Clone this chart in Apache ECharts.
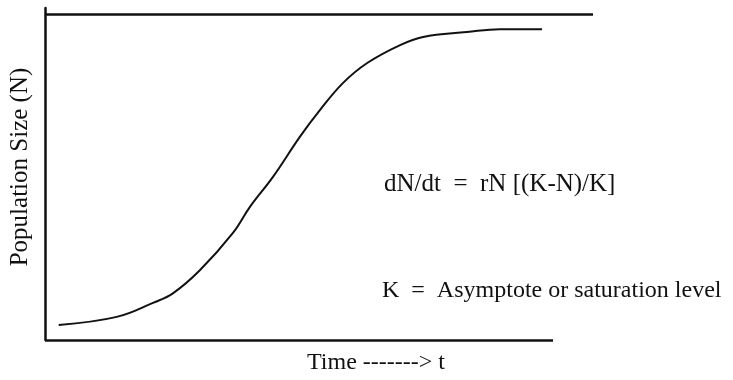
<!DOCTYPE html>
<html>
<head>
<meta charset="utf-8">
<script src="https://cdn.jsdelivr.net/npm/echarts@6/dist/echarts.min.js"></script>
<style>
  html, body { margin: 0; padding: 0; background: #fff; }
  #chart { width: 733px; height: 380px; }
</style>
</head>
<body>
<div id="chart"></div>
<script>
// logistic curve (time, N) in arbitrary units, K = 100
const times = [2.5, 13.1, 19.7, 23.4, 28.3, 34.3, 37.4, 41.6, 46.5, 50.2, 54.4, 58.8, 64.8, 69.0, 77.0, 83.0, 90.7];
const sizes = [4.6, 7.1, 11.4, 14.4, 21.5, 32.9, 40.9, 50.1, 62.4, 70.7, 79.0, 85.1, 90.6, 93.1, 94.6, 95.5, 95.5];
const K = 100;
const timeEnd = 92.7;   // where the time axis line stops
const xLabel = 'Time -------> t';
const yLabel = 'Population Size (N)';
const formulaText = 'dN/dt  =  rN [(K-N)/K]';
const kText = 'K  =  Asymptote or saturation level';

const chart = echarts.init(document.getElementById('chart'));

const serif = 'Liberation Serif';
const points = times.map((t, i) => [t, sizes[i]]);

const option = {
  animation: false,
  grid: { left: 45, right: 140, top: 8, bottom: 40 },
  xAxis: {
    type: 'value',
    min: 0,
    max: 100,
    axisLine: { show: false },
    axisTick: { show: false },
    axisLabel: { show: false },
    splitLine: { show: false }
  },
  yAxis: {
    type: 'value',
    min: 0,
    max: 102,
    name: yLabel,
    nameLocation: 'middle',
    nameRotate: 90,
    nameGap: 12,
    nameTextStyle: { fontFamily: serif, fontSize: 25, color: '#111', padding: [0, 0, 0, 14] },
    axisLine: { show: true, lineStyle: { color: '#111', width: 2.5 } },
    axisTick: { show: false },
    axisLabel: { show: false },
    splitLine: { show: false }
  },
  series: [
    {
      type: 'line',
      data: points,
      smooth: 0.4,
      symbol: 'none',
      lineStyle: { color: '#111', width: 2 },
      markLine: {
        silent: true,
        symbol: 'none',
        label: { show: false },
        lineStyle: { color: '#111', width: 2.5, type: 'solid' },
        data: [
          [{ coord: [0, K] }, { coord: [100, K] }],
          [{ coord: [0, 0] }, { coord: [timeEnd, 0] }]
        ]
      }
    }
  ],
  graphic: [
    {
      type: 'text',
      left: 384,
      top: 172,
      style: { text: formulaText, font: '25px "Liberation Serif"', fill: '#111' }
    },
    {
      type: 'text',
      left: 382,
      top: 279,
      style: { text: kText, font: '24px "Liberation Serif"', fill: '#111' }
    },
    {
      type: 'text',
      left: 307,
      top: 351,
      style: { text: xLabel, font: '24px "Liberation Serif"', fill: '#111' }
    }
  ]
};

chart.setOption(option);
</script>
</body>
</html>
